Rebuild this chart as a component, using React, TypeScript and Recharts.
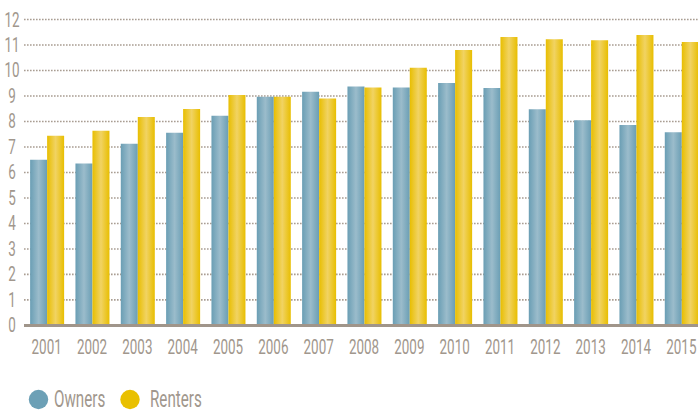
import React from "react";
import { BarChart, Bar, XAxis, YAxis, CartesianGrid } from "recharts";

const years = [
  "2001", "2002", "2003", "2004", "2005", "2006", "2007", "2008",
  "2009", "2010", "2011", "2012", "2013", "2014", "2015",
];
const owners = [6.5, 6.35, 7.13, 7.56, 8.22, 8.97, 9.17, 9.37, 9.33, 9.51, 9.31, 8.48, 8.05, 7.86, 7.58];
const renters = [7.44, 7.64, 8.18, 8.49, 9.04, 8.97, 8.9, 9.33, 10.11, 10.8, 11.31, 11.23, 11.19, 11.39, 11.12];
const yTicks = [0, 1, 2, 3, 4, 5, 6, 7, 8, 9, 10, 11, 12];

const TEXT = "#a1978d";
const FONT = "Roboto, 'DejaVu Sans', sans-serif";

const data = years.map((year, i) => ({ year, owners: owners[i], renters: renters[i] }));

// narrow the glyphs to mimic the condensed face of the original
const XTick = ({ x, y, payload }: any) => (
  <g transform={`translate(${x},${y})`}>
    <text
      transform="scale(0.64,1)"
      textAnchor="middle"
      dy={28.5}
      fill={TEXT}
      fontSize={21}
      fontFamily={FONT}
    >
      {payload.value}
    </text>
  </g>
);

const YTick = ({ x, y, payload }: any) => (
  <g transform={`translate(${x},${y})`}>
    <text
      transform="scale(0.64,1)"
      textAnchor="middle"
      dy={7}
      fill={TEXT}
      fontSize={21}
      fontFamily={FONT}
    >
      {payload.value}
    </text>
  </g>
);

const legendItems = [
  { name: "Owners", color: "#6ca0b6", cx: 38.5, tx: 54 },
  { name: "Renters", color: "#e9c000", cx: 130, tx: 150 },
];

export default function App() {
  return (
    <div style={{ position: "absolute", left: 0, top: 0, width: 698, height: 412, overflow: "hidden" }}>
      <BarChart
        width={704}
        height={412}
        data={data}
        margin={{ top: 19.5, right: 0, bottom: 46.6, left: 0 }}
        barCategoryGap="13.5%"
        barGap={0}
      >
        <defs>
          <linearGradient id="gOwners" x1="0" y1="0" x2="1" y2="0">
            <stop offset="0%" stopColor="#6a9eb4" />
            <stop offset="50%" stopColor="#9bbccb" />
            <stop offset="100%" stopColor="#6a9eb4" />
          </linearGradient>
          <linearGradient id="gRenters" x1="0" y1="0" x2="1" y2="0">
            <stop offset="0%" stopColor="#e8be00" />
            <stop offset="50%" stopColor="#f1d363" />
            <stop offset="100%" stopColor="#e8be00" />
          </linearGradient>
        </defs>
        <CartesianGrid
          vertical={false}
          stroke="#a99d92"
          strokeWidth={1.6}
          strokeDasharray="1.6 1.4"
        />
        <XAxis
          dataKey="year"
          height={40}
          tickLine={false}
          tickSize={0}
          tickMargin={0}
          axisLine={{ stroke: "#a0958a", strokeWidth: 3 }}
          tick={<XTick />}
          interval={0}
        />
        <YAxis
          width={24}
          domain={[0, 12]}
          ticks={yTicks}
          interval={0}
          axisLine={false}
          tickLine={false}
          tickSize={0}
          tickMargin={12}
          tick={<YTick />}
        />
        <Bar dataKey="owners" fill="url(#gOwners)" isAnimationActive={false} />
        <Bar dataKey="renters" fill="url(#gRenters)" isAnimationActive={false} />
      </BarChart>
      <svg width={698} height={32} style={{ position: "absolute", left: 0, top: 380 }}>
        {legendItems.map((it) => (
          <g key={it.name}>
            <circle cx={it.cx} cy={19.5} r={9.7} fill={it.color} />
            <g transform={`translate(${it.tx},26.5)`}>
              <text transform="scale(0.66,1)" fill={TEXT} fontSize={23} fontFamily={FONT}>
                {it.name}
              </text>
            </g>
          </g>
        ))}
      </svg>
    </div>
  );
}
